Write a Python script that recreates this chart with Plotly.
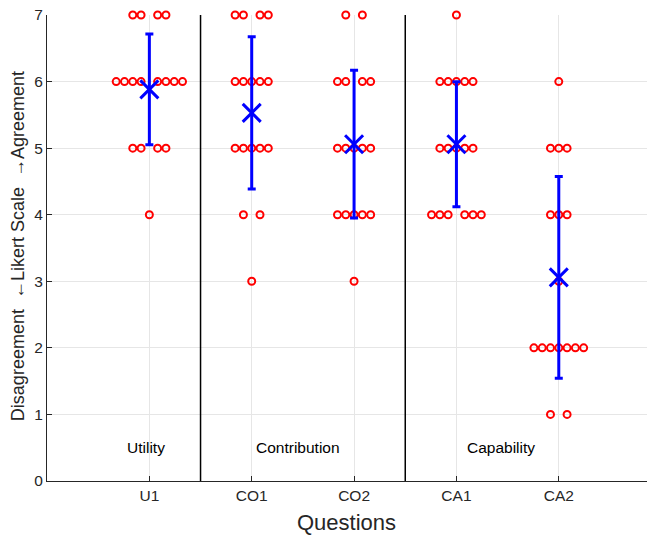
import numpy as np
import plotly.graph_objects as go

questions = ["U1", "CO1", "CO2", "CA1", "CA2"]
levels = [1, 2, 3, 4, 5, 6, 7]
# number of responses at each Likert level (1..7) per question
counts_U1 = [0, 0, 0, 1, 4, 8, 4]
counts_CO1 = [0, 0, 1, 2, 5, 5, 4]
counts_CO2 = [0, 0, 1, 5, 5, 4, 2]
counts_CA1 = [0, 0, 0, 6, 5, 5, 1]
counts_CA2 = [2, 7, 1, 3, 3, 1, 0]
all_counts = [counts_U1, counts_CO1, counts_CO2, counts_CA1, counts_CA2]

groups = ["Utility", "Contribution", "Capability"]
group_x = [0.97, 2.45, 4.44]
separators = [1.5, 3.5]
y_ticks = [0, 1, 2, 3, 4, 5, 6, 7]

STEP = 0.081

px, py = [], []
means, sds = [], []
for qi, cnts in enumerate(all_counts):
    pos = qi + 1
    vals = []
    for lev, n in zip(levels, cnts):
        vals += [lev] * n
        if n == 0:
            continue
        if n % 2 == 1:
            offs = [(k - (n - 1) / 2) for k in range(n)]
        else:
            half = n // 2
            offs = [-k for k in range(half, 0, -1)] + [k for k in range(1, half + 1)]
        for o in offs:
            px.append(pos + o * STEP)
            py.append(lev)
    v = np.array(vals, dtype=float)
    means.append(v.mean())
    sds.append(v.std())

xpos = list(range(1, len(questions) + 1))

fig = go.Figure()
fig.add_trace(go.Scatter(
    x=px, y=py, mode="markers", cliponaxis=False,
    marker=dict(symbol="circle-open", size=7, color="#ff0000",
                line=dict(width=2, color="#ff0000")),
    showlegend=False, hoverinfo="skip"))
fig.add_trace(go.Scatter(
    x=xpos, y=means, mode="markers",
    marker=dict(symbol="x-thin", size=18, color="#0000ff",
                line=dict(width=3, color="#0000ff")),
    error_y=dict(type="data", array=sds, visible=True, color="#0000ff",
                 thickness=3, width=4),
    showlegend=False))

for s in separators:
    fig.add_shape(type="line", x0=s, x1=s, y0=0, y1=7, xref="x", yref="y",
                  line=dict(color="black", width=1.5))

for g, gx in zip(groups, group_x):
    fig.add_annotation(x=gx, y=0.5, text=g, showarrow=False,
                       font=dict(size=15.5, color="#000000"))

fig.add_annotation(xref="paper", yref="paper", x=0.493, y=-0.088,
                   text="Questions", showarrow=False,
                   font=dict(size=22, color="#262626"),
                   xanchor="center", yanchor="middle")
fig.add_annotation(xref="paper", yref="paper", x=-0.0477, y=0.504,
                   text="Disagreement  \u2190Likert Scale  \u2192Agreement",
                   textangle=-90, showarrow=False,
                   font=dict(size=18, color="#262626"),
                   xanchor="center", yanchor="middle")

axis_common = dict(showline=True, linecolor="#262626", linewidth=1,
                   ticks="inside", ticklen=5, tickcolor="#262626",
                   showgrid=True, gridcolor="#e6e6e6", gridwidth=1,
                   zeroline=False, automargin=False,
                   ticklabeloverflow="allow",
                   tickfont=dict(size=15.5, color="#262626"))

fig.update_layout(
    width=647, height=527,
    margin=dict(l=39, r=0, t=7, b=54, autoexpand=False),
    paper_bgcolor="white", plot_bgcolor="white",
    font=dict(family="Liberation Sans, Arial, sans-serif"),
    xaxis=dict(range=[0, 5.94], tickmode="array", tickvals=xpos,
               ticktext=questions, **axis_common),
    yaxis=dict(range=[0, 7], tickmode="array", tickvals=y_ticks,
               **axis_common),
)

fig.write_html("out.html")
